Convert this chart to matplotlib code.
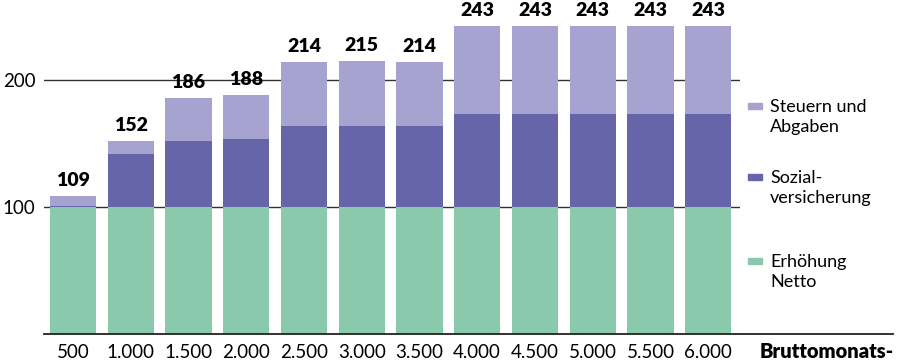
import matplotlib
matplotlib.use("Agg")
from matplotlib import pyplot as plt
from matplotlib.lines import Line2D

plt.rcParams['font.family'] = ['Lato', 'DejaVu Sans']

brutto = ['500', '1.000', '1.500', '2.000', '2.500', '3.000', '3.500',
          '4.000', '4.500', '5.000', '5.500', '6.000']
netto = [100, 100, 100, 100, 100, 100, 100, 100, 100, 100, 100, 100]
sozial = [1, 42, 52, 54, 64, 64, 64, 73, 73, 73, 73, 73]
gesamt = [109, 152, 186, 188, 214, 215, 214, 243, 243, 243, 243, 243]
steuern = [g - n - s for g, n, s in zip(gesamt, netto, sozial)]

c_netto = '#8BC9AD'
c_sozial = '#6665A9'
c_steuern = '#A6A3D1'

fig = plt.figure(figsize=(9, 3.6), dpi=100)
ax = fig.add_axes([44/900, 26/360, 696/900, 330/360])

x = list(range(len(brutto)))
ax.bar(x, netto, width=0.8, color=c_netto, zorder=2)
ax.bar(x, sozial, width=0.8, bottom=netto, color=c_sozial, zorder=2)
bot2 = [n + s for n, s in zip(netto, sozial)]
ax.bar(x, steuern, width=0.8, bottom=bot2, color=c_steuern, zorder=2)

for xi, g in zip(x, gesamt):
    ax.annotate(str(g), (xi, g), xytext=(0, 5), textcoords='offset points',
                ha='center', va='bottom', fontsize=14, fontweight='heavy',
                color='black', zorder=4)

ax.set_xlim(-0.5, 11.55)
ax.set_ylim(0, 260)
for s in ['top', 'right', 'left', 'bottom']:
    ax.spines[s].set_visible(False)
ax.set_yticks([100, 200])
ax.set_yticklabels(['100', '200'], fontsize=13.5)
ax.tick_params(axis='y', length=0, pad=6)
ax.yaxis.grid(True, color='#333333', linewidth=1)
ax.set_axisbelow(True)
ax.set_xticks(x)
ax.set_xticklabels(brutto, fontsize=13.5)
ax.tick_params(axis='x', length=0, pad=7)

# extended bottom axis line
fig.add_artist(Line2D([44/900, 893/900], [26/360, 26/360], color='#222222',
                      linewidth=1.3))
fig.text(760/900, 8/360, 'Bruttomonats-', fontsize=14.5, fontweight='heavy',
         va='center', ha='left')

# legend
legend = [(c_steuern, 'Steuern und\nAbgaben', 117),
          (c_sozial, 'Sozial-\nversicherung', 188),
          (c_netto, 'Erhöhung\nNetto', 272)]
for col, txt, ypix in legend:
    fig.add_artist(plt.Rectangle((748/900, (360 - ypix + 11) / 360 - 3/360),
                                 14/900, 6/360, color=col))
    fig.text(770/900, (360 - ypix) / 360, txt, fontsize=13, va='center',
             ha='left', linespacing=1.25)

fig.savefig('out.png', dpi=100)
